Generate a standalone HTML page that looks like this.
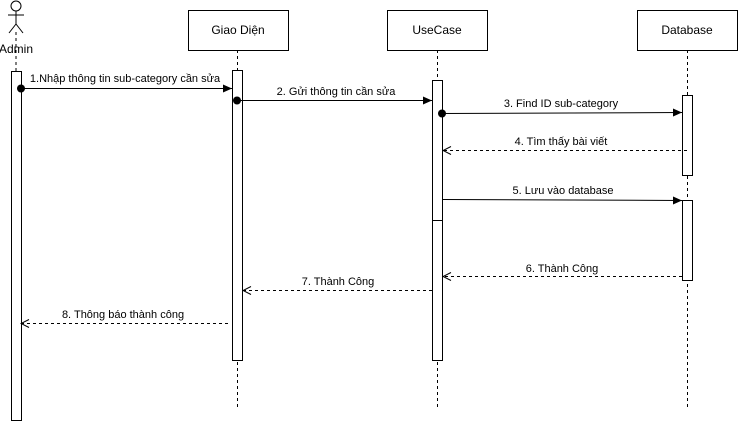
<!DOCTYPE html>
<html><head><meta charset="utf-8"><style>
html,body{margin:0;padding:0;background:#fff;}
svg text{font-family:"Liberation Sans","DejaVu Sans",sans-serif;font-size:11px;fill:#000;}
</style></head><body>
<svg width="738" height="421" xmlns="http://www.w3.org/2000/svg">
<defs>
<marker id="f" markerWidth="10" markerHeight="8" refX="9" refY="4" orient="auto" markerUnits="userSpaceOnUse"><path d="M0,0 L9,4 L0,8 Z" fill="#000"/></marker>
<marker id="o" markerWidth="10" markerHeight="10" refX="9" refY="5" orient="auto" markerUnits="userSpaceOnUse"><path d="M1,1 L9,5 L1,9" fill="none" stroke="#000"/></marker>
</defs>
<g stroke="#000" stroke-dasharray="3,3" fill="none">
<line x1="16" y1="32" x2="16" y2="71"/>
<line x1="237.5" y1="50" x2="237.5" y2="408"/>
<line x1="437.5" y1="50" x2="437.5" y2="408"/>
<line x1="687.5" y1="50" x2="687.5" y2="408"/>
</g>
<g stroke="#000" fill="#fff">
<circle cx="16" cy="6" r="5"/>
<line x1="16" y1="11" x2="16" y2="24"/>
<line x1="8" y1="15" x2="24" y2="15"/>
<line x1="16" y1="24" x2="9" y2="33"/>
<line x1="16" y1="24" x2="23" y2="33"/>
</g>
<text x="16" y="53" text-anchor="middle" style="font-size:12px">Admin</text>
<g stroke="#000" fill="#fff">
<rect x="188.5" y="10.5" width="100" height="40"/>
<rect x="387.5" y="10.5" width="100" height="40"/>
<rect x="637.5" y="10.5" width="100" height="40"/>
<rect x="11.5" y="71.5" width="10" height="349"/>
<rect x="232.5" y="70.5" width="10" height="290"/>
<rect x="432.5" y="80.5" width="10" height="280"/>
<line x1="432.5" y1="220.5" x2="442.5" y2="220.5"/>
<rect x="682.5" y="95.5" width="10" height="80"/>
<rect x="682.5" y="200.5" width="10" height="80"/>
</g>
<text x="238" y="34" text-anchor="middle" style="font-size:12px">Giao Diện</text>
<text x="437" y="34" text-anchor="middle" style="font-size:12px">UseCase</text>
<text x="687" y="34" text-anchor="middle" style="font-size:12px">Database</text>
<g stroke="#000" fill="none">
<line x1="21" y1="88.5" x2="232" y2="88.5" marker-end="url(#f)"/>
<line x1="237" y1="100.5" x2="432" y2="100.5" marker-end="url(#f)"/>
<line x1="442" y1="113.5" x2="682" y2="112.5" marker-end="url(#f)"/>
<line x1="687" y1="150.5" x2="443" y2="150.5" stroke-dasharray="3,3" marker-end="url(#o)"/>
<line x1="443" y1="199.5" x2="682" y2="200.5" marker-end="url(#f)"/>
<line x1="682" y1="276.5" x2="443" y2="276.5" stroke-dasharray="3,3" marker-end="url(#o)"/>
<line x1="432" y1="290.5" x2="243" y2="290.5" stroke-dasharray="3,3" marker-end="url(#o)"/>
<line x1="228" y1="323.5" x2="21" y2="323.5" stroke-dasharray="3,3" marker-end="url(#o)"/>
</g>
<g fill="#000">
<circle cx="21" cy="88.5" r="4"/>
<circle cx="237" cy="100.5" r="4"/>
<circle cx="442" cy="113.5" r="4"/>
</g>
<text x="125" y="82" text-anchor="middle">1.Nhập thông tin sub-category cần sửa</text>
<text x="336" y="95" text-anchor="middle">2. Gửi thông tin cần sửa</text>
<text x="561" y="107" text-anchor="middle">3. Find ID sub-category</text>
<text x="561" y="145" text-anchor="middle">4. Tìm thấy bài viết</text>
<text x="563" y="194" text-anchor="middle">5. Lưu vào database</text>
<text x="562" y="272" text-anchor="middle">6. Thành Công</text>
<text x="338" y="285" text-anchor="middle">7. Thành Công</text>
<text x="123" y="318" text-anchor="middle">8. Thông báo thành công</text>
</svg>
</body></html>
